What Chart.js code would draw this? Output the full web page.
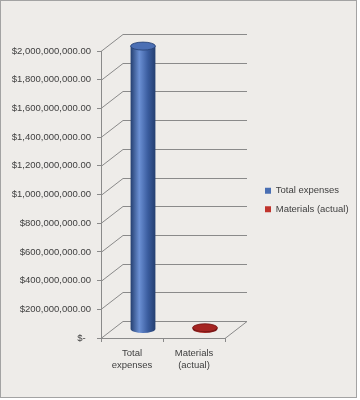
<!DOCTYPE html>
<html lang="en">
<head>
    <meta charset="UTF-8"/>
    <title>Total expenses vs materials</title>
    <script src="https://cdn.jsdelivr.net/npm/chart.js@4.4.1/dist/chart.umd.min.js"></script>
    <style>
        body { margin: 0; background: #ffffff; }
        #wrap { width: 360px; height: 400px; }
    </style>
</head>
<body>

<div id="wrap">
    <canvas id="chart" width="360" height="400"></canvas>
</div>

<script>
    // values
    const categories = [['Total', 'expenses'], ['Materials', '(actual)']];
    const seriesNames = ['Total expenses', 'Materials (actual)'];
    const totalExpenses = [1975000000, null];
    const materialsActual = [null, 12000000];
    const yTicks = [0, 200000000, 400000000, 600000000, 800000000, 1000000000,
        1200000000, 1400000000, 1600000000, 1800000000, 2000000000];

    const DX = 22, DY = 17; // 3d depth offset
    const textColor = '#404040';
    const wallColor = '#8a8a8a';
    const legendColors = ['#4a6fb3', '#c0342c'];

    function money(v) {
        if (v === 0) return '$-  ';
        return '$' + v.toLocaleString('en-US') + '.00';
    }

    // background + frame
    const frame = {
        id: 'frame',
        beforeDraw(chart) {
            const c = chart.ctx;
            c.save();
            c.fillStyle = '#eeece9';
            c.fillRect(0, 0, 357, 398);
            c.strokeStyle = '#a3a3a3';
            c.lineWidth = 1;
            c.strokeRect(0.5, 0.5, 356, 397);
            c.restore();
        }
    };

    // legend box gets a fixed width, and is centred on the plot instead of the page
    const legendBox = {
        id: 'legendBox',
        beforeInit(chart) {
            const orig = chart.legend.fit;
            chart.legend.fit = function () {
                orig.call(this);
                this.width = 104;
            };
        },
        afterLayout(chart) {
            const lg = chart.legend;
            lg.bottom = chart.chartArea.bottom + 11;
            lg.height = lg.bottom - lg.top;
        }
    };

    // back wall, side wall and floor
    const walls = {
        id: 'walls',
        beforeDatasetsDraw(chart) {
            const c = chart.ctx;
            const area = chart.chartArea;
            const y = chart.scales.y;
            c.save();
            c.strokeStyle = wallColor;
            c.lineWidth = 1;
            yTicks.forEach(t => {
                const py = Math.round(y.getPixelForValue(t)) + 0.5;
                c.beginPath();
                c.moveTo(area.left, py);
                c.lineTo(area.left + DX, py - DY);
                c.lineTo(area.right + DX, py - DY);
                c.stroke();
            });
            // floor right edge
            const by = Math.round(y.getPixelForValue(0)) + 0.5;
            c.beginPath();
            c.moveTo(area.right + DX, by - DY);
            c.lineTo(area.right, by);
            c.stroke();
            c.restore();
        }
    };

    function cylinder(c, cx, top, bottom, w, dark, light, edge, cap) {
        const rx = w / 2, ry = 4;
        const g = c.createLinearGradient(cx - rx, 0, cx + rx, 0);
        g.addColorStop(0, edge);
        g.addColorStop(0.35, light);
        g.addColorStop(0.7, dark);
        g.addColorStop(1, edge);
        c.fillStyle = g;
        c.beginPath();
        c.moveTo(cx - rx, top);
        c.lineTo(cx - rx, bottom);
        c.ellipse(cx, bottom, rx, ry, 0, Math.PI, 0, true);
        c.lineTo(cx + rx, top);
        c.closePath();
        c.fill();
        c.fillStyle = cap;
        c.strokeStyle = edge;
        c.lineWidth = 0.8;
        c.beginPath();
        c.ellipse(cx, top, rx, ry, 0, 0, Math.PI * 2);
        c.fill();
        c.stroke();
    }

    const cylinders = {
        id: 'cylinders',
        afterDatasetsDraw(chart) {
            const c = chart.ctx;
            const looks = [
                ['#3a5c9e', '#6b90d4', '#243f70', '#4b6fb4'],
                ['#8e1c1c', '#c23a34', '#6e1212', '#a52522']
            ];
            c.save();
            chart.data.datasets.forEach((ds, i) => {
                chart.getDatasetMeta(i).data.forEach((bar, j) => {
                    if (ds.data[j] == null) return;
                    const p = bar.getProps(['x', 'y', 'base', 'width'], true);
                    const l = looks[i];
                    cylinder(c, p.x + DX / 2, p.y - DY / 2, p.base - DY / 2, p.width, l[0], l[1], l[2], l[3]);
                });
            });
            c.restore();
        }
    };

    const font = {family: 'Liberation Sans', size: 9.5};

    new Chart(document.getElementById('chart'), {
        type: 'bar',
        data: {
            labels: categories,
            datasets: [
                {
                    label: seriesNames[0],
                    data: totalExpenses,
                    backgroundColor: 'rgba(0,0,0,0)',
                    borderWidth: 0
                },
                {
                    label: seriesNames[1],
                    data: materialsActual,
                    backgroundColor: 'rgba(0,0,0,0)',
                    borderWidth: 0
                }
            ]
        },
        options: {
            responsive: false,
            animation: false,
            events: [],
            grouped: false,
            categoryPercentage: 0.8,
            barPercentage: 0.5,
            layout: {padding: {top: 51, bottom: 20, left: 0, right: 0}},
            scales: {
                x: {
                    offset: true,
                    grid: {offset: true, drawOnChartArea: false, tickLength: 4, color: wallColor},
                    border: {color: wallColor},
                    ticks: {color: textColor, font: font, padding: 6, maxRotation: 0},
                    afterFit(s) { s.height = 42; }
                },
                y: {
                    min: 0,
                    max: 2000000000,
                    afterBuildTicks(s) { s.ticks = yTicks.map(v => ({value: v})); },
                    grid: {drawOnChartArea: false, tickLength: 4, color: wallColor},
                    border: {color: wallColor},
                    ticks: {color: textColor, font: font, padding: 6, callback: v => money(v)},
                    afterFit(s) { s.width = 101; }
                },
                // empty strip between the 3d walls and the legend
                gap: {
                    type: 'linear',
                    position: 'right',
                    grid: {display: false},
                    border: {display: false},
                    ticks: {display: false},
                    afterFit(s) { s.width = 31; }
                }
            },
            plugins: {
                legend: {
                    position: 'right',
                    labels: {
                        color: textColor,
                        font: font,
                        boxWidth: 6,
                        boxHeight: 6,
                        padding: 9,
                        generateLabels(chart) {
                            const items = Chart.defaults.plugins.legend.labels.generateLabels(chart);
                            items.forEach((it, i) => {
                                it.fillStyle = legendColors[i];
                                it.strokeStyle = legendColors[i];
                                it.lineWidth = 0;
                            });
                            return items;
                        }
                    }
                },
                tooltip: {enabled: false}
            }
        },
        plugins: [frame, legendBox, walls, cylinders]
    });
</script>

</body>
</html>
